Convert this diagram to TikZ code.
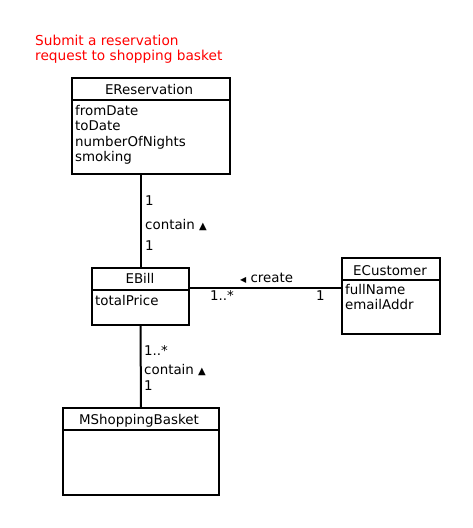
\documentclass[tikz,border=0pt]{standalone}
\usepackage{fontspec}
\setmainfont{DejaVu Sans}
\definecolor{notered}{RGB}{255,0,0}
\tikzset{
  classbox/.style={draw, line width=2pt, inner sep=0pt, anchor=north west},
  conn/.style={line width=2pt},
  txt/.style={inner sep=0pt, anchor=base west, font=\fontsize{13.4}{15}\selectfont},
  ttl/.style={inner sep=0pt, anchor=base, font=\fontsize{13.4}{15}\selectfont},
  notetxt/.style={inner sep=0pt, anchor=base west, align=left, text=notered, font=\fontsize{13.7}{15.5}\selectfont},
}
\newcommand{\uptri}{{\fontsize{10}{10}\selectfont ▲}}
\newcommand{\lefttri}{{\fontsize{8}{8}\selectfont ◀}}
\begin{document}
\begin{tikzpicture}[x=1pt,y=-1pt]
\useasboundingbox (0,0) rectangle (472,528);
% note
\node[notetxt] (note1) at (35,45.5) {Submit a reservation};
\node[notetxt] (note2) at (35,60.5) {request to shopping basket};
% classes
\node[classbox, minimum width=158pt, minimum height=96pt] (res) at (71,77) {};
\node[classbox, minimum width=97pt, minimum height=57pt] (bill) at (91,267) {};
\node[classbox, minimum width=98pt, minimum height=76pt] (cust) at (341,257) {};
\node[classbox, minimum width=156pt, minimum height=87pt] (bask) at (62,407) {};
\foreach \c in {res,bill,cust,bask}{
  \draw[conn] ([yshift=-23pt]\c.north west) -- ([yshift=-23pt]\c.north east);
}
% titles
\node[ttl] (resT) at (149,94) {EReservation};
\node[ttl] (billT) at (140,283) {EBill};
\node[ttl] (custT) at (390,275) {ECustomer};
\node[ttl] (baskT) at (139,424) {MShoppingBasket};
% attributes
\node[txt] (a1) at (75,115) {fromDate};
\node[txt] (a2) at (75,130.5) {toDate};
\node[txt] (a3) at (75,146) {numberOfNights};
\node[txt] (a4) at (75,161.5) {smoking};
\node[txt] (b1) at (95,305) {totalPrice};
\node[txt] (c1) at (345,294.5) {fullName};
\node[txt] (c2) at (345,309) {emailAddr};
% connectors
\draw[conn] (res.south -| bill.north) -- (bill.north);
\draw[conn] (bill.south) -- (bask.north);
\draw[conn] ([yshift=8.5pt]bill.east) -- ([yshift=8.5pt]bill.east -| cust.west);
% association labels
\node[txt] (l1) at (145,205) {1};
\node[txt] (l2) at (145,229) {contain \uptri};
\node[txt] (l3) at (145,250) {1};
\node[txt] (l4) at (240,282) {\lefttri\ create};
\node[txt] (l5) at (210,300) {1..*};
\node[txt] (l6) at (316,300) {1};
\node[txt] (l7) at (144,355) {1..*};
\node[txt] (l8) at (144,374) {contain \uptri};
\node[txt] (l9) at (144,390) {1};
\end{tikzpicture}
\end{document}
